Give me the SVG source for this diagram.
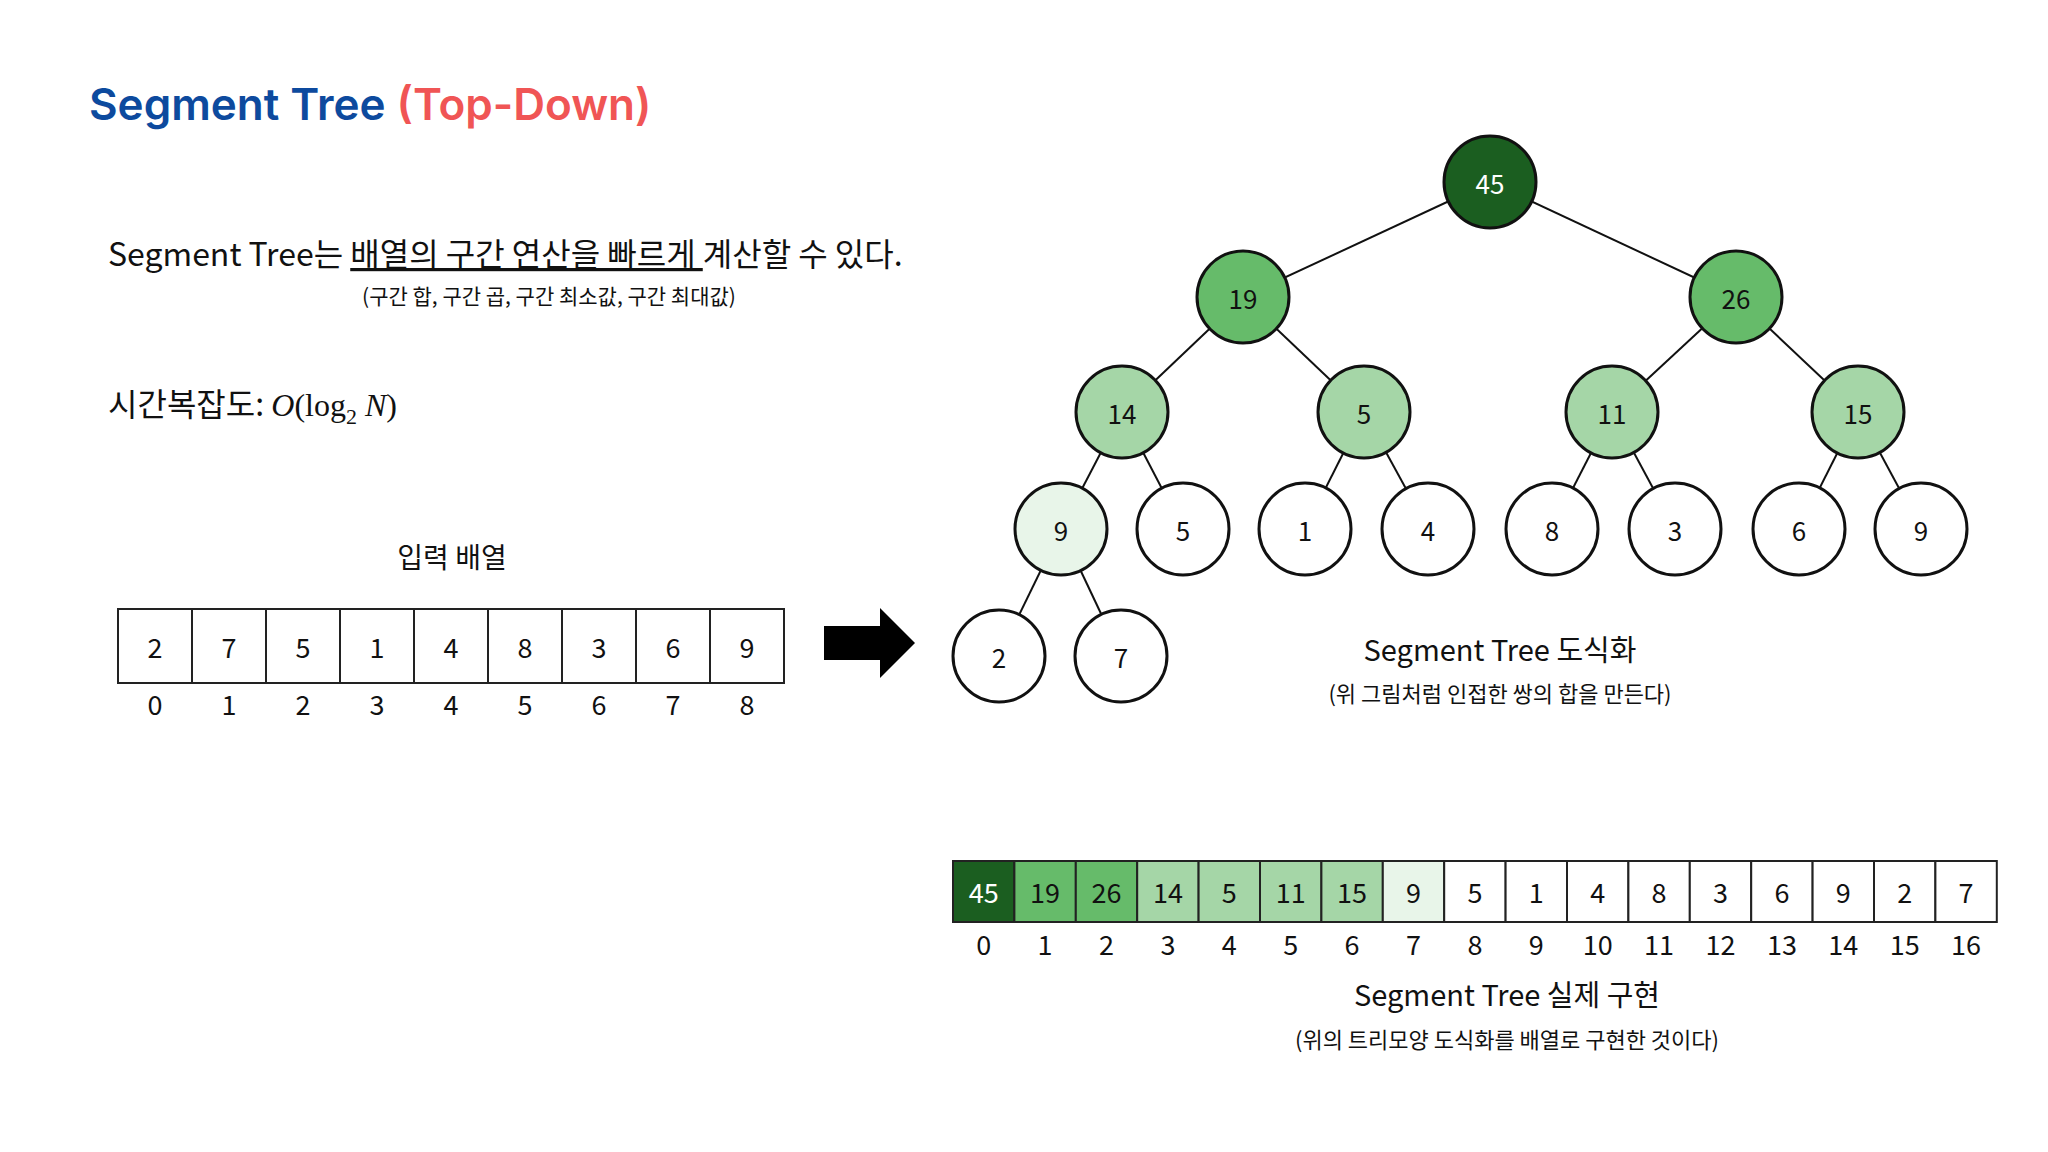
<svg xmlns="http://www.w3.org/2000/svg" width="2048" height="1152" viewBox="0 0 2048 1152">
<style>
text{font-family:"Noto Sans CJK KR","Noto Sans",sans-serif;fill:#111}
.n circle{stroke:#111;stroke-width:3}
.n text{font-size:26px;text-anchor:middle;dominant-baseline:central}
.c rect{stroke:#222;stroke-width:2}
.c text{font-size:27px;text-anchor:middle;dominant-baseline:central}
.ix{font-size:15px;text-anchor:middle}
.cap{text-anchor:middle}
#edges line{stroke:#111;stroke-width:2}
</style>
<rect width="2048" height="1152" fill="#fff"/>
<text x="89" y="120" style="font-family:Inter,'Liberation Sans',sans-serif;font-size:44px;font-weight:600;fill:#0D4A9E">Segment Tree <tspan style="fill:#F05555">(Top-Down)</tspan></text>
<text x="108" y="266" font-size="32">Segment Tree는 <tspan text-decoration="underline">배열의 구간 연산을 빠르게 </tspan>계산할 수 있다.</text>
<text x="549" y="304" font-size="21" class="cap">(구간 합, 구간 곱, 구간 최소값, 구간 최대값)</text>
<text x="108" y="416" font-size="32">시간복잡도: <tspan font-family="Liberation Serif,serif" font-style="italic">O</tspan><tspan font-family="Liberation Serif,serif">(log</tspan><tspan font-family="Liberation Serif,serif" font-size="22" dy="8">2</tspan><tspan font-family="Liberation Serif,serif" font-style="italic" dy="-8"> N</tspan><tspan font-family="Liberation Serif,serif">)</tspan></text>
<text x="452" y="568" font-size="28" class="cap">입력 배열</text>
<g id="input" class="c">
<rect x="118" y="609" width="74" height="74" fill="#fff"/><text x="155" y="646">2</text>
<rect x="192" y="609" width="74" height="74" fill="#fff"/><text x="229" y="646">7</text>
<rect x="266" y="609" width="74" height="74" fill="#fff"/><text x="303" y="646">5</text>
<rect x="340" y="609" width="74" height="74" fill="#fff"/><text x="377" y="646">1</text>
<rect x="414" y="609" width="74" height="74" fill="#fff"/><text x="451" y="646">4</text>
<rect x="488" y="609" width="74" height="74" fill="#fff"/><text x="525" y="646">8</text>
<rect x="562" y="609" width="74" height="74" fill="#fff"/><text x="599" y="646">3</text>
<rect x="636" y="609" width="74" height="74" fill="#fff"/><text x="673" y="646">6</text>
<rect x="710" y="609" width="74" height="74" fill="#fff"/><text x="747" y="646">9</text>
<text class="ix" x="155" y="703">0</text><text class="ix" x="229" y="703">1</text><text class="ix" x="303" y="703">2</text><text class="ix" x="377" y="703">3</text><text class="ix" x="451" y="703">4</text><text class="ix" x="525" y="703">5</text><text class="ix" x="599" y="703">6</text><text class="ix" x="673" y="703">7</text><text class="ix" x="747" y="703">8</text>
</g>
<polygon id="arrow" points="824,626 880,626 880,608 915,643 880,678 880,660 824,660" fill="#000"/>
<g id="edges">
<line x1="1490" y1="182" x2="1243" y2="297"/><line x1="1490" y1="182" x2="1736" y2="297"/>
<line x1="1243" y1="297" x2="1122" y2="412"/><line x1="1243" y1="297" x2="1364" y2="412"/>
<line x1="1736" y1="297" x2="1612" y2="412"/><line x1="1736" y1="297" x2="1858" y2="412"/>
<line x1="1122" y1="412" x2="1061" y2="529"/><line x1="1122" y1="412" x2="1183" y2="529"/>
<line x1="1364" y1="412" x2="1305" y2="529"/><line x1="1364" y1="412" x2="1428" y2="529"/>
<line x1="1612" y1="412" x2="1552" y2="529"/><line x1="1612" y1="412" x2="1675" y2="529"/>
<line x1="1858" y1="412" x2="1799" y2="529"/><line x1="1858" y1="412" x2="1921" y2="529"/>
<line x1="1061" y1="529" x2="999" y2="656"/><line x1="1061" y1="529" x2="1121" y2="656"/>
</g>
<g id="n0" class="n"><circle cx="1490" cy="182" r="46" fill="#1B5E20"/><text x="1490" y="182" style="fill:#fff">45</text></g>
<g id="n1" class="n"><circle cx="1243" cy="297" r="46" fill="#66BB6A"/><text x="1243" y="297">19</text></g>
<g id="n2" class="n"><circle cx="1736" cy="297" r="46" fill="#66BB6A"/><text x="1736" y="297">26</text></g>
<g id="n3" class="n"><circle cx="1122" cy="412" r="46" fill="#A5D6A7"/><text x="1122" y="412">14</text></g>
<g id="n4" class="n"><circle cx="1364" cy="412" r="46" fill="#A5D6A7"/><text x="1364" y="412">5</text></g>
<g id="n5" class="n"><circle cx="1612" cy="412" r="46" fill="#A5D6A7"/><text x="1612" y="412">11</text></g>
<g id="n6" class="n"><circle cx="1858" cy="412" r="46" fill="#A5D6A7"/><text x="1858" y="412">15</text></g>
<g id="n7" class="n"><circle cx="1061" cy="529" r="46" fill="#E8F5E9"/><text x="1061" y="529">9</text></g>
<g id="n8" class="n"><circle cx="1183" cy="529" r="46" fill="#fff"/><text x="1183" y="529">5</text></g>
<g id="n9" class="n"><circle cx="1305" cy="529" r="46" fill="#fff"/><text x="1305" y="529">1</text></g>
<g id="n10" class="n"><circle cx="1428" cy="529" r="46" fill="#fff"/><text x="1428" y="529">4</text></g>
<g id="n11" class="n"><circle cx="1552" cy="529" r="46" fill="#fff"/><text x="1552" y="529">8</text></g>
<g id="n12" class="n"><circle cx="1675" cy="529" r="46" fill="#fff"/><text x="1675" y="529">3</text></g>
<g id="n13" class="n"><circle cx="1799" cy="529" r="46" fill="#fff"/><text x="1799" y="529">6</text></g>
<g id="n14" class="n"><circle cx="1921" cy="529" r="46" fill="#fff"/><text x="1921" y="529">9</text></g>
<g id="n15" class="n"><circle cx="999" cy="656" r="46" fill="#fff"/><text x="999" y="656">2</text></g>
<g id="n16" class="n"><circle cx="1121" cy="656" r="46" fill="#fff"/><text x="1121" y="656">7</text></g>
<text x="1500" y="661" font-size="29" class="cap">Segment Tree 도식화</text>
<text x="1500" y="702" font-size="22" class="cap">(위 그림처럼 인접한 쌍의 합을 만든다)</text>
<g id="tree-array" class="c">
<rect x="953" y="861" width="61.4" height="61" fill="#1B5E20"/><text x="983.7" y="891" style="fill:#fff">45</text>
<rect x="1014.4" y="861" width="61.4" height="61" fill="#66BB6A"/><text x="1045.1" y="891">19</text>
<rect x="1075.8" y="861" width="61.4" height="61" fill="#66BB6A"/><text x="1106.5" y="891">26</text>
<rect x="1137.2" y="861" width="61.4" height="61" fill="#A5D6A7"/><text x="1167.9" y="891">14</text>
<rect x="1198.6" y="861" width="61.4" height="61" fill="#A5D6A7"/><text x="1229.3" y="891">5</text>
<rect x="1260" y="861" width="61.4" height="61" fill="#A5D6A7"/><text x="1290.7" y="891">11</text>
<rect x="1321.4" y="861" width="61.4" height="61" fill="#A5D6A7"/><text x="1352.1" y="891">15</text>
<rect x="1382.8" y="861" width="61.4" height="61" fill="#E8F5E9"/><text x="1413.5" y="891">9</text>
<rect x="1444.2" y="861" width="61.4" height="61" fill="#fff"/><text x="1474.9" y="891">5</text>
<rect x="1505.6" y="861" width="61.4" height="61" fill="#fff"/><text x="1536.3" y="891">1</text>
<rect x="1567" y="861" width="61.4" height="61" fill="#fff"/><text x="1597.7" y="891">4</text>
<rect x="1628.4" y="861" width="61.4" height="61" fill="#fff"/><text x="1659.1" y="891">8</text>
<rect x="1689.8" y="861" width="61.4" height="61" fill="#fff"/><text x="1720.5" y="891">3</text>
<rect x="1751.2" y="861" width="61.4" height="61" fill="#fff"/><text x="1781.9" y="891">6</text>
<rect x="1812.6" y="861" width="61.4" height="61" fill="#fff"/><text x="1843.3" y="891">9</text>
<rect x="1874" y="861" width="61.4" height="61" fill="#fff"/><text x="1904.7" y="891">2</text>
<rect x="1935.4" y="861" width="61.4" height="61" fill="#fff"/><text x="1966.1" y="891">7</text>
<text class="ix" x="983.7" y="943">0</text><text class="ix" x="1045.1" y="943">1</text><text class="ix" x="1106.5" y="943">2</text><text class="ix" x="1167.9" y="943">3</text><text class="ix" x="1229.3" y="943">4</text><text class="ix" x="1290.7" y="943">5</text><text class="ix" x="1352.1" y="943">6</text><text class="ix" x="1413.5" y="943">7</text><text class="ix" x="1474.9" y="943">8</text><text class="ix" x="1536.3" y="943">9</text><text class="ix" x="1597.7" y="943">10</text><text class="ix" x="1659.1" y="943">11</text><text class="ix" x="1720.5" y="943">12</text><text class="ix" x="1781.9" y="943">13</text><text class="ix" x="1843.3" y="943">14</text><text class="ix" x="1904.7" y="943">15</text><text class="ix" x="1966.1" y="943">16</text>
</g>
<text x="1507" y="1006" font-size="29" class="cap">Segment Tree 실제 구현</text>
<text x="1507" y="1048" font-size="22" class="cap">(위의 트리모양 도식화를 배열로 구현한 것이다)</text>
</svg>
